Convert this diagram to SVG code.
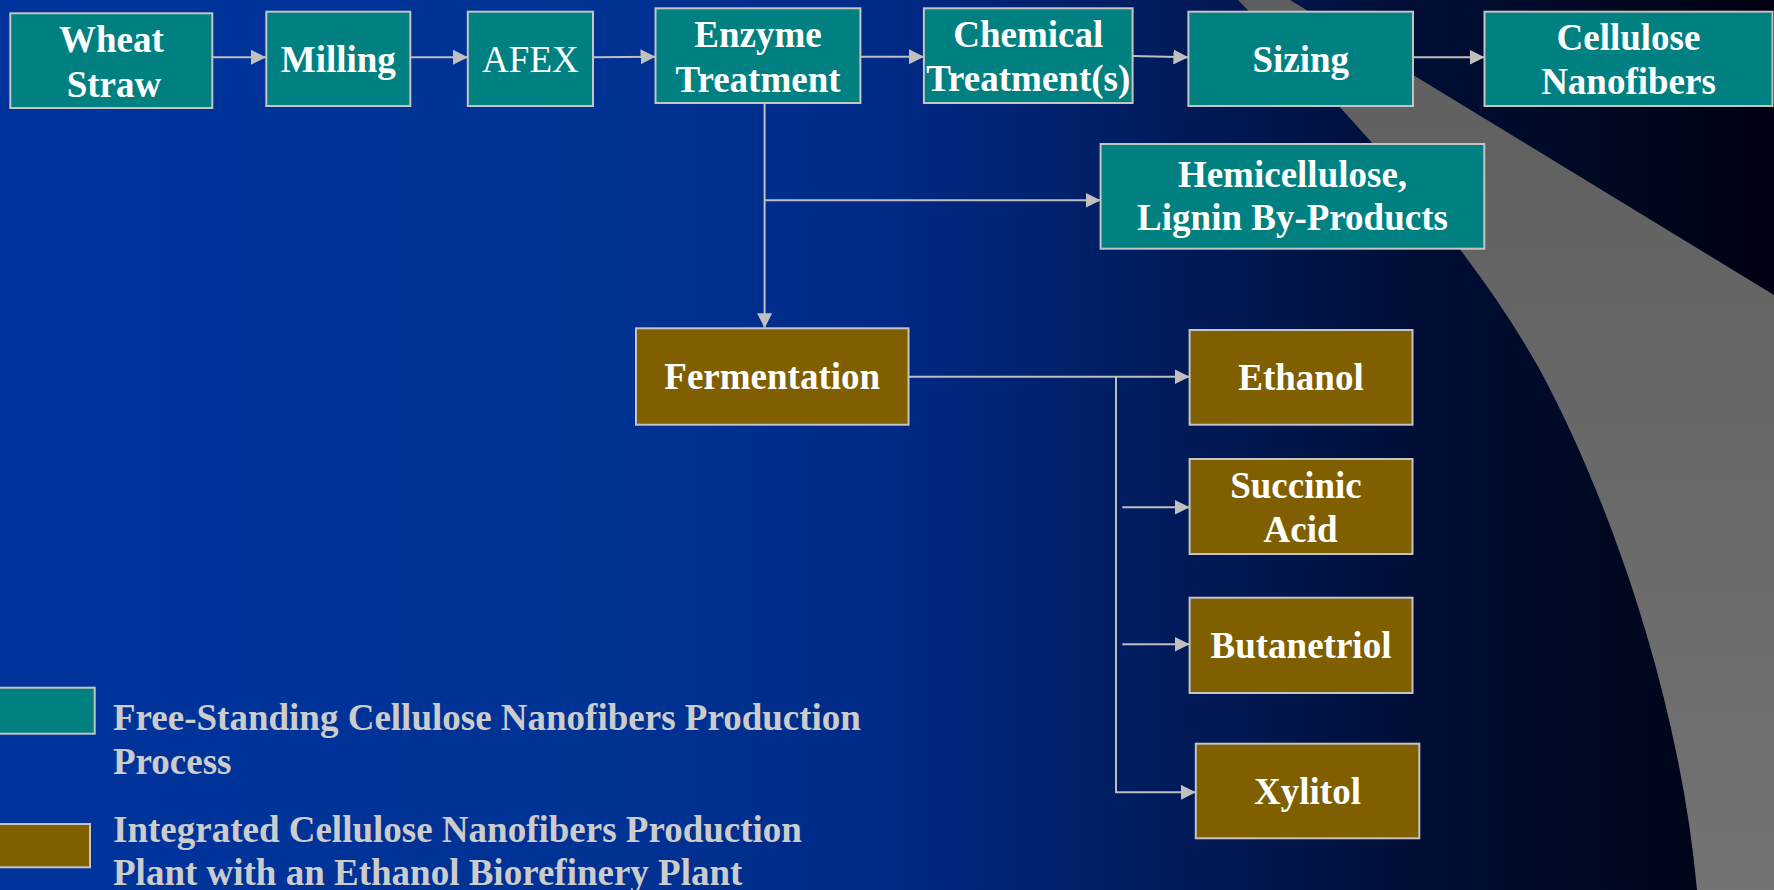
<svg xmlns="http://www.w3.org/2000/svg" width="1774" height="890" viewBox="0 0 1774 890">
<defs>
<linearGradient id="bg" x1="0" y1="0" x2="1774" y2="0" gradientUnits="userSpaceOnUse">
<stop offset="0" stop-color="#00349C"/>
<stop offset="0.35" stop-color="#003294"/>
<stop offset="0.5" stop-color="#002A86"/>
<stop offset="0.64" stop-color="#001D60"/>
<stop offset="0.8" stop-color="#000E36"/>
<stop offset="0.92" stop-color="#00081F"/>
<stop offset="1" stop-color="#000012"/>
</linearGradient>
<linearGradient id="gr" x1="0" y1="0" x2="0" y2="890" gradientUnits="userSpaceOnUse">
<stop offset="0" stop-color="#5E5E5E"/>
<stop offset="1" stop-color="#737373"/>
</linearGradient>
<marker id="ah" markerUnits="userSpaceOnUse" markerWidth="15" markerHeight="15" refX="15" refY="7.5" orient="auto">
<path d="M0,0 L15,7.5 L0,15 Z" fill="#C0C0C0"/>
</marker>
</defs>
<style>
.teal{fill:#008080;stroke:#C4C4C4;stroke-width:2}
.brown{fill:#7F5F00;stroke:#C4C4C4;stroke-width:2}
.t{font-family:"Liberation Serif","Times New Roman",serif;font-size:37px;font-weight:bold;fill:#FFFFFF;text-anchor:middle}
.r{font-weight:normal}
.lg{font-family:"Liberation Serif","Times New Roman",serif;font-size:37px;font-weight:bold;fill:#CCCCCC}
.c{fill:none;stroke:#BEBEBE;stroke-width:2}
</style>
<rect x="0" y="0" width="1774" height="890" fill="url(#bg)"/>
<path d="M1238,0 C1360,125 1470,245 1540,370 C1610,500 1680,700 1697,890 L1774,890 L1774,295 L1290,0 Z" fill="url(#gr)"/>

<g id="connectors">
<line class="c" x1="212" y1="57.3" x2="266" y2="57.3" marker-end="url(#ah)"/>
<line class="c" x1="410" y1="57.3" x2="468" y2="57.3" marker-end="url(#ah)"/>
<line class="c" x1="593" y1="57.3" x2="655.5" y2="56.7" marker-end="url(#ah)"/>
<line class="c" x1="860" y1="56.7" x2="924" y2="56.7" marker-end="url(#ah)"/>
<line class="c" x1="1132.6" y1="56" x2="1188.4" y2="57.3" marker-end="url(#ah)"/>
<line class="c" x1="1413" y1="57.3" x2="1484.5" y2="57.3" marker-end="url(#ah)"/>
<line class="c" x1="764.6" y1="103" x2="764.6" y2="328.3" marker-end="url(#ah)"/>
<line class="c" x1="764.6" y1="200.3" x2="1100.6" y2="200.3" marker-end="url(#ah)"/>
<line class="c" x1="908.5" y1="376.7" x2="1189.6" y2="376.7" marker-end="url(#ah)"/>
<polyline class="c" points="1116,376.7 1116,792.3 1195.8,792.3" marker-end="url(#ah)"/>
<line class="c" x1="1122.3" y1="507.3" x2="1189.6" y2="507.3" marker-end="url(#ah)"/>
<line class="c" x1="1122.3" y1="644.3" x2="1189.6" y2="644.3" marker-end="url(#ah)"/>
</g>

<g id="wheat-straw">
<rect class="teal" x="10.3" y="13.3" width="202" height="94.7"/>
<text class="t" x="111.4" y="51.7">Wheat</text>
<text class="t" x="114" y="96.7">Straw</text>
</g>
<g id="milling">
<rect class="teal" x="266.3" y="11.7" width="144" height="94.3"/>
<text class="t" x="338.3" y="71.7">Milling</text>
</g>
<g id="afex">
<rect class="teal" x="467.8" y="11.7" width="125.2" height="94.3"/>
<text class="t r" x="530.4" y="71.7">AFEX</text>
</g>
<g id="enzyme-treatment">
<rect class="teal" x="655.5" y="8.3" width="204.9" height="94.7"/>
<text class="t" x="758" y="46.7">Enzyme</text>
<text class="t" x="758" y="91.7">Treatment</text>
</g>
<g id="chemical-treatment">
<rect class="teal" x="923.9" y="8.3" width="208.7" height="94.7"/>
<text class="t" x="1028.2" y="46.7">Chemical</text>
<text class="t" x="1028.2" y="90.7">Treatment(s)</text>
</g>
<g id="sizing">
<rect class="teal" x="1188.4" y="11.7" width="224.6" height="94.3"/>
<text class="t" x="1300.7" y="71.7">Sizing</text>
</g>
<g id="cellulose-nanofibers">
<rect class="teal" x="1484.5" y="11.7" width="288" height="94.3"/>
<text class="t" x="1628.5" y="50">Cellulose</text>
<text class="t" x="1628.5" y="94.3">Nanofibers</text>
</g>
<g id="hemicellulose-lignin">
<rect class="teal" x="1100.6" y="144" width="383.7" height="104.7"/>
<text class="t" x="1292.5" y="186.7">Hemicellulose,</text>
<text class="t" x="1292.5" y="230">Lignin By-Products</text>
</g>
<g id="fermentation">
<rect class="brown" x="636" y="328.3" width="272.5" height="96.4"/>
<text class="t" x="772.2" y="389.3">Fermentation</text>
</g>
<g id="ethanol">
<rect class="brown" x="1189.6" y="330" width="222.9" height="94.7"/>
<text class="t" x="1301" y="390">Ethanol</text>
</g>
<g id="succinic-acid">
<rect class="brown" x="1189.6" y="459" width="222.9" height="95"/>
<text class="t" x="1296" y="498.3">Succinic</text>
<text class="t" x="1300.5" y="541.7">Acid</text>
</g>
<g id="butanetriol">
<rect class="brown" x="1189.6" y="597.7" width="222.9" height="95.3"/>
<text class="t" x="1301" y="658.3">Butanetriol</text>
</g>
<g id="xylitol">
<rect class="brown" x="1195.8" y="743.7" width="223.5" height="94.6"/>
<text class="t" x="1307.5" y="804">Xylitol</text>
</g>

<g id="legend-free-standing">
<rect class="teal" x="-5" y="687.7" width="99.7" height="46"/>
<text class="lg" x="113" y="730">Free-Standing Cellulose Nanofibers Production</text>
<text class="lg" x="113" y="774.3">Process</text>
</g>
<g id="legend-integrated">
<rect class="brown" x="-5" y="824" width="95" height="43.3"/>
<text class="lg" x="113" y="841.7">Integrated Cellulose Nanofibers Production</text>
<text class="lg" x="113" y="885">Plant with an Ethanol Biorefinery Plant</text>
</g>
</svg>
